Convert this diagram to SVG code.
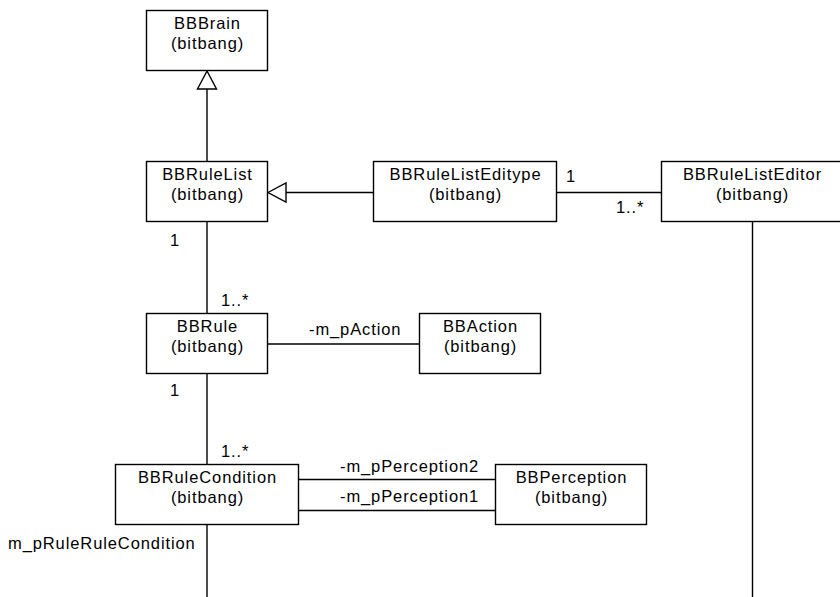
<svg xmlns="http://www.w3.org/2000/svg" width="840" height="597" viewBox="0 0 840 597">
<style>
  .box { fill: #ffffff; stroke: #000000; stroke-width: 1.4; }
  .t { font-family: "Liberation Sans", Arial, sans-serif; font-size: 16.5px; letter-spacing: 0.9px; fill: #000000; }
  .c { text-anchor: middle; }
  .ln { fill: none; stroke: #000000; stroke-width: 1.4; }
  .tri { fill: #ffffff; stroke: #000000; stroke-width: 1.4; }
</style>
<rect width="840" height="597" fill="#ffffff"/>
<g id="connectors">
  <line class="ln" x1="207" y1="89" x2="207" y2="161"/>
  <polygon class="tri" points="207,71 197.5,89 216.5,89"/>
  <line class="ln" x1="286" y1="192.5" x2="374" y2="192.5"/>
  <polygon class="tri" points="268,192.5 286,183 286,202"/>
  <line class="ln" x1="557" y1="192.5" x2="662" y2="192.5"/>
  <text class="t" x="566" y="182">1</text>
  <text class="t" x="616" y="213">1..*</text>
  <line class="ln" x1="207" y1="222" x2="207" y2="313"/>
  <text class="t" x="170" y="246">1</text>
  <text class="t" x="221" y="306">1..*</text>
  <line class="ln" x1="268" y1="344" x2="419" y2="344"/>
  <text class="t" x="309" y="335">-m_pAction</text>
  <line class="ln" x1="207" y1="374" x2="207" y2="465"/>
  <text class="t" x="170" y="396">1</text>
  <text class="t" x="221" y="457">1..*</text>
  <line class="ln" x1="298" y1="479.5" x2="495" y2="479.5"/>
  <line class="ln" x1="298" y1="510.5" x2="495" y2="510.5"/>
  <text class="t" x="340" y="472">-m_pPerception2</text>
  <text class="t" x="340" y="502">-m_pPerception1</text>
  <line class="ln" x1="207" y1="524" x2="207" y2="597"/>
  <text class="t" x="8" y="549">m_pRuleRuleCondition</text>
  <line class="ln" x1="752.5" y1="222" x2="752.5" y2="597"/>
</g>
<g id="BBBrain">
  <rect class="box" x="146.5" y="10.5" width="121" height="60"/>
  <text class="t c" x="207.5" y="29">BBBrain</text>
  <text class="t c" x="207.5" y="48.5">(bitbang)</text>
</g>
<g id="BBRuleList">
  <rect class="box" x="146.5" y="161.5" width="121" height="60"/>
  <text class="t c" x="207.5" y="180">BBRuleList</text>
  <text class="t c" x="207.5" y="199.5">(bitbang)</text>
</g>
<g id="BBRuleListEditype">
  <rect class="box" x="373.5" y="161.5" width="183" height="60"/>
  <text class="t c" x="465.5" y="180">BBRuleListEditype</text>
  <text class="t c" x="465.5" y="199.5">(bitbang)</text>
</g>
<g id="BBRuleListEditor">
  <rect class="box" x="661.5" y="161.5" width="183" height="60"/>
  <text class="t c" x="752.5" y="180">BBRuleListEditor</text>
  <text class="t c" x="752.5" y="199.5">(bitbang)</text>
</g>
<g id="BBRule">
  <rect class="box" x="146.5" y="313.5" width="121" height="60"/>
  <text class="t c" x="207.5" y="332">BBRule</text>
  <text class="t c" x="207.5" y="351.5">(bitbang)</text>
</g>
<g id="BBAction">
  <rect class="box" x="419.5" y="313.5" width="121" height="60"/>
  <text class="t c" x="480.5" y="332">BBAction</text>
  <text class="t c" x="480.5" y="351.5">(bitbang)</text>
</g>
<g id="BBRuleCondition">
  <rect class="box" x="115.5" y="464.5" width="183" height="60"/>
  <text class="t c" x="207.5" y="483">BBRuleCondition</text>
  <text class="t c" x="207.5" y="502.5">(bitbang)</text>
</g>
<g id="BBPerception">
  <rect class="box" x="495.5" y="464.5" width="151" height="60"/>
  <text class="t c" x="571.5" y="483">BBPerception</text>
  <text class="t c" x="571.5" y="502.5">(bitbang)</text>
</g>
</svg>
